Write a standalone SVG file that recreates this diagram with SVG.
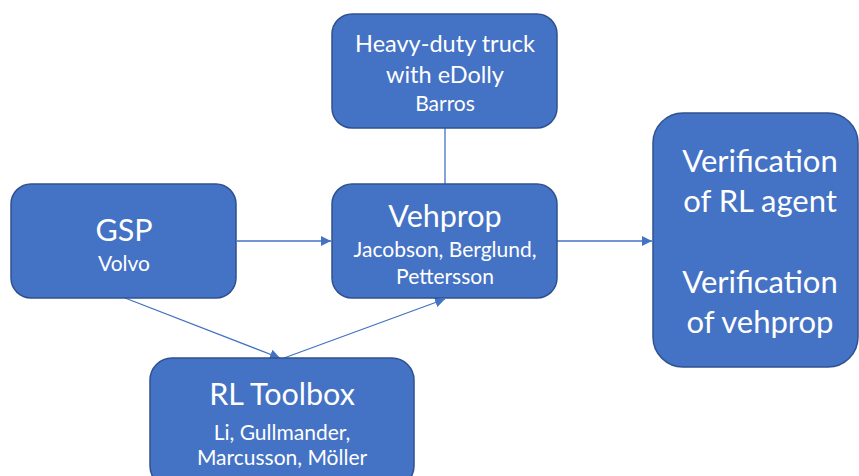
<svg xmlns="http://www.w3.org/2000/svg" width="859" height="476" viewBox="0 0 859 476">
<style>
.box{fill:#4472C4;stroke:#2F528F;stroke-width:1.5}
text{fill:#fff;font-family:Lato,"Open Sans","Liberation Sans",sans-serif;text-anchor:middle}
.t{font-size:30.5px}
.m{font-size:23.5px}
.s{font-size:21px}
.v{font-size:31px}
.c{stroke:#4472C4;stroke-width:1.3;fill:none}
</style>
<defs>
<marker id="a" viewBox="0 0 10 10" refX="10" refY="5" markerWidth="10" markerHeight="10" markerUnits="userSpaceOnUse" orient="auto">
<path d="M0,0L10,5L0,10z" fill="#4472C4"/>
</marker>
</defs>
<g id="connectors">
<line class="c" x1="445" y1="128" x2="445" y2="184"/>
<line class="c" x1="237" y1="241" x2="331" y2="241" marker-end="url(#a)"/>
<line class="c" x1="557" y1="241" x2="652" y2="241" marker-end="url(#a)"/>
<line class="c" x1="125" y1="298" x2="280" y2="358" marker-end="url(#a)"/>
<line class="c" x1="284" y1="358" x2="445" y2="299" marker-end="url(#a)"/>
</g>
<g id="truck">
<rect class="box" x="332" y="14" width="225" height="114" rx="20"/>
<text class="m" x="445" y="52">Heavy-duty truck</text>
<text class="m" x="445" y="83">with eDolly</text>
<text class="s" x="445" y="111">Barros</text>
</g>
<g id="gsp">
<rect class="box" x="11" y="184" width="225" height="114" rx="20"/>
<text class="t" x="124" y="241">GSP</text>
<text class="s" x="124" y="271">Volvo</text>
</g>
<g id="vehprop">
<rect class="box" x="332" y="184" width="225" height="114" rx="20"/>
<text class="t" x="445" y="227">Vehprop</text>
<text class="s" x="445" y="257">Jacobson, Berglund,</text>
<text class="s" x="445" y="284">Pettersson</text>
</g>
<g id="verification">
<rect class="box" x="653" y="113" width="205" height="254" rx="30"/>
<text class="v" x="760" y="172">Verification</text>
<text class="v" x="760" y="212">of RL agent</text>
<text class="v" x="760" y="293">Verification</text>
<text class="v" x="760" y="333">of vehprop</text>
</g>
<g id="rltoolbox">
<rect class="box" x="150" y="358" width="264" height="130" rx="22"/>
<text class="t" x="282" y="405">RL Toolbox</text>
<text class="s" x="282" y="440">Li, Gullmander,</text>
<text class="s" x="282" y="465">Marcusson, Möller</text>
</g>
</svg>
